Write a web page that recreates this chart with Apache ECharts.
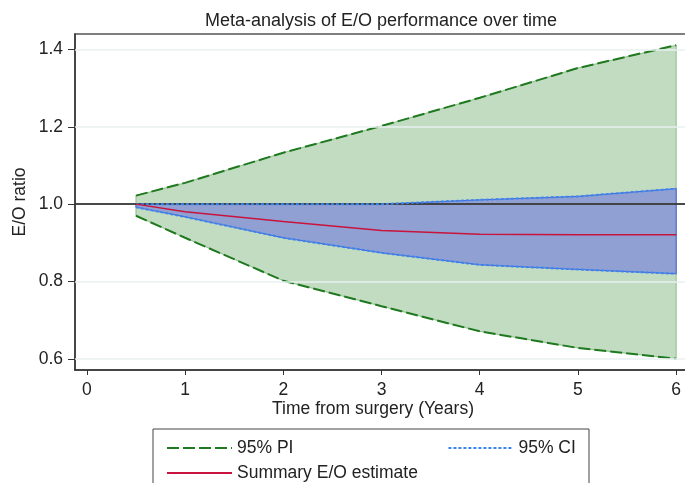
<!DOCTYPE html>
<html>
<head>
<meta charset="utf-8">
<script src="https://cdn.jsdelivr.net/npm/echarts@6/dist/echarts.min.js"></script>
<style>
  html, body { margin: 0; padding: 0; background: #fff; }
  #chart { width: 685px; height: 483px; }
</style>
</head>
<body>
<div id="chart"></div>
<script>
// years after surgery
const years = [0.5, 1, 2, 3, 4, 5, 6];
const piUpper = [1.022, 1.055, 1.133, 1.202, 1.275, 1.352, 1.411];
const piLower = [0.970, 0.913, 0.802, 0.736, 0.671, 0.628, 0.600];
const ciUpper = [1.0, 1.0, 1.0, 1.0, 1.011, 1.020, 1.040];
const ciLower = [0.992, 0.967, 0.913, 0.874, 0.843, 0.831, 0.820];
const estimate = [1.0, 0.980, 0.955, 0.932, 0.922, 0.921, 0.921];

const xTicks = [0, 1, 2, 3, 4, 5, 6];
const yTicks = [0.6, 0.8, 1.0, 1.2, 1.4];

const FONT = "'Liberation Sans', Arial, sans-serif";

const pairs = (ys) => years.map((t, i) => [t, ys[i]]);

// filled band between two curves, drawn once through the axis scales
function band(upper, lower, fill, stroke) {
  return {
    type: "custom",
    silent: true,
    data: pairs(upper),
    renderItem: (params, api) => {
      if (params.dataIndex !== 0) return null;
      const top = years.map((t, i) => api.coord([t, upper[i]]));
      const bottom = years.map((t, i) => api.coord([t, lower[i]])).reverse();
      return {
        type: "polygon",
        shape: { points: top.concat(bottom) },
        style: { fill: fill, stroke: stroke, lineWidth: 1 }
      };
    },
    z: 1
  };
}

function curve(name, ys, color, width, dash, z) {
  return {
    name: name, type: "line", data: pairs(ys),
    symbol: "none", color: color,
    itemStyle: { color: color },
    lineStyle: { color: color, width: width, type: dash },
    z: z
  };
}

const legendBase = {
  itemWidth: 65, itemHeight: 14,
  itemStyle: { opacity: 0 },
  textStyle: { fontSize: 17.5, color: "#222", fontFamily: FONT }
};

const chart = echarts.init(document.getElementById("chart"));

chart.setOption({
  animation: false,
  backgroundColor: "#fff",
  textStyle: { fontFamily: FONT },
  grid: {
    left: 75, top: 34, width: 613, height: 336,
    outerBoundsMode: "none",
    containLabel: false,
    show: true, borderColor: "#555", borderWidth: 1.5
  },
  xAxis: {
    type: "value",
    min: -0.12, max: 6.12,
    axisLine: { onZero: false, lineStyle: { color: "#333", width: 1.5 } },
    axisTick: { show: true, length: 5, customValues: xTicks, lineStyle: { color: "#333" } },
    axisLabel: { customValues: xTicks, color: "#222", fontSize: 17.5, margin: 11, fontFamily: FONT },
    splitLine: { show: false }
  },
  yAxis: {
    type: "value",
    min: 0.571, max: 1.44,
    axisLine: { show: true, onZero: false, lineStyle: { color: "#333", width: 1.5 } },
    axisTick: { show: true, length: 7, customValues: yTicks, lineStyle: { color: "#333" } },
    axisLabel: {
      customValues: yTicks, color: "#222", fontSize: 17.5, margin: 12, fontFamily: FONT,
      formatter: (v) => v.toFixed(1)
    },
    splitLine: { show: false }
  },
  legend: [
    Object.assign({ data: ["95% PI", "95% CI"], left: 161, top: 434, itemGap: 154 }, legendBase),
    Object.assign({ data: ["Summary E/O estimate"], left: 161, top: 459 }, legendBase)
  ],
  graphic: [
    {
      type: "text", x: 381, y: 21,
      style: { text: "Meta-analysis of E/O performance over time", font: "18px " + FONT,
               fill: "#222", textAlign: "center", textVerticalAlign: "middle" }
    },
    {
      type: "text", x: 20, y: 202, rotation: Math.PI / 2,
      style: { text: "E/O ratio", font: "17.5px " + FONT,
               fill: "#222", textAlign: "center", textVerticalAlign: "middle" }
    },
    {
      type: "text", x: 373, y: 409,
      style: { text: "Time from surgery (Years)", font: "17.5px " + FONT,
               fill: "#222", textAlign: "center", textVerticalAlign: "middle" }
    },
    {
      type: "rect", shape: { x: 153, y: 429, width: 436, height: 80 },
      style: { fill: "none", stroke: "#444", lineWidth: 1 }
    }
  ],
  series: [
    // grid lines
    {
      type: "line", data: [], silent: true,
      markLine: {
        symbol: "none", silent: true, label: { show: false },
        lineStyle: { color: "#e8f0f1", width: 1.5, type: "solid" },
        data: yTicks.map((v) => ({ yAxis: v }))
      },
      z: 0
    },
    band(piUpper, piLower, "rgba(0,110,0,0.24)", "rgba(90,160,90,0.6)"),
    band(ciUpper, ciLower, "rgba(110,120,220,0.6)", "#4a62d8"),
    // reference line at 1
    {
      type: "line", data: [], silent: true,
      markLine: {
        symbol: "none", silent: true, label: { show: false },
        lineStyle: { color: "#111", width: 1.5, type: "solid" },
        data: [{ yAxis: 1.0 }]
      },
      z: 3
    },
    curve("95% PI", piUpper, "#1f7a1f", 2, [12, 4], 4),
    curve("95% PI", piLower, "#1f7a1f", 2, [12, 4], 4),
    curve("95% CI", ciUpper, "#3b86ee", 2, [3, 2], 5),
    curve("95% CI", ciLower, "#3b86ee", 2, [3, 2], 5),
    curve("Summary E/O estimate", estimate, "#c8143c", 1.5, "solid", 6)
  ]
});
</script>
</body>
</html>
